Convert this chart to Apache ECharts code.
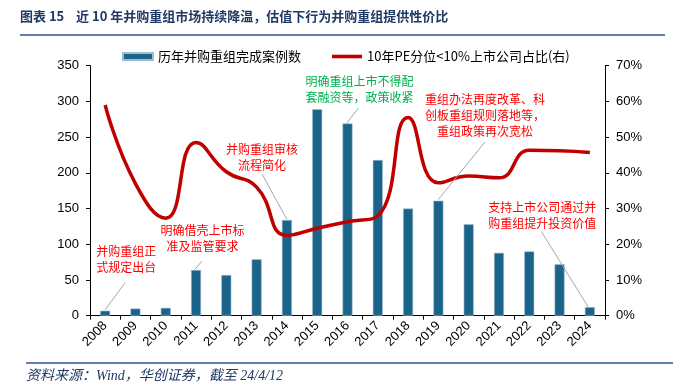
<!DOCTYPE html>
<html>
<head>
<meta charset="utf-8">
<script src="https://cdn.jsdelivr.net/npm/echarts@6/dist/echarts.min.js"></script>
<style>
html,body{margin:0;padding:0;background:#fff;}
#c{width:685px;height:386px;}
</style>
</head>
<body>
<div id="c"></div>
<script>
const years = ['2008','2009','2010','2011','2012','2013','2014','2015','2016','2017','2018','2019','2020','2021','2022','2023','2024'];
const dealCounts = [7,10,11,64,57,79,134,289,269,218,150,161,128,88,90,72,12];
const pePct = [59,37,27.3,48.5,40.3,36,22.5,24.5,26.3,28,55.5,37.2,39.1,38.6,46.3,46.2,45.7];
const leftTicks = {min:0,max:350,interval:50};
const rightTicks = {min:0,max:70,interval:10};
const seriesNames = ['历年并购重组完成案例数','10年PE分位<10%上市公司占比(右)'];
const titleText = '图表 15    近 10 年并购重组市场持续降温，估值下行为并购重组提供性价比';
const sourceText = '资料来源：Wind，华创证券，截至 24/4/12';
const notes = [
  {i:0, lines:['并购重组正','式规定出台'], color:'#ff0000'},
  {i:3, lines:['明确借壳上市标','准及监管要求'], color:'#ff0000'},
  {i:6, lines:['并购重组审核','流程简化'], color:'#ff0000'},
  {i:8, lines:['明确重组上市不得配','套融资等，政策收紧'], color:'#00b050'},
  {i:11, lines:['重组办法再度改革、科','创板重组规则落地等，','重组政策再次宽松'], color:'#ff0000'},
  {i:16, lines:['支持上市公司通过并','购重组提升投资价值'], color:'#ff0000'}
];
// layout offsets (text center, leader start, leader end) relative to bar top
const noteLayout = [
  {t:[21,-51], s:[20,-28], e:[0,-1]},
  {t:[6.5,-31.5], s:[5.7,-8.7], e:[-1,-0.7]},
  {t:[-25,-62.5], s:[-24.7,-45.7], e:[0,-0.5]},
  {t:[12,-33.7], s:[10.8,-15.4], e:[-0.8,-0.4]},
  {t:[46.5,-85], s:[46.5,-58.6], e:[-0.2,-1]},
  {t:[-47.5,-91.7], s:[-48.3,-75.3], e:[-1.7,-0.3]}
];

const cjk = '"Noto Sans CJK SC", sans-serif';
const chart = echarts.init(document.getElementById('c'), null, {renderer:'canvas'});
const option = {
  animation:false,
  backgroundColor:'#fff',
  grid:{left:90,right:80,top:65.7,bottom:70.3,containLabel:false},
  legend:{
    left:122, top:50, padding:0, itemWidth:30, itemHeight:7, itemGap:31,
    textStyle:{fontFamily:cjk,fontSize:13,color:'#000'},
    data:[{name:seriesNames[0],icon:'rect'},
          {name:seriesNames[1],icon:'path://M0,0H30V3.6H0Z'}]
  },
  xAxis:{
    type:'category', data:years,
    axisLine:{lineStyle:{color:'#000',width:1}},
    axisTick:{show:true,alignWithLabel:false,length:4,lineStyle:{color:'#000'}},
    axisLabel:{rotate:45,fontFamily:'Arial, "Liberation Sans"',fontSize:13,color:'#000',margin:8,interval:0}
  },
  yAxis:[
    {type:'value',min:leftTicks.min,max:leftTicks.max,interval:leftTicks.interval,
     splitLine:{show:false},
     axisLine:{show:true,lineStyle:{color:'#000'}},
     axisTick:{show:true,length:4,lineStyle:{color:'#000'}},
     axisLabel:{fontFamily:'Arial, "Liberation Sans"',fontSize:13,color:'#000',margin:11}},
    {type:'value',min:rightTicks.min,max:rightTicks.max,interval:rightTicks.interval,
     splitLine:{show:false},
     axisLine:{show:true,lineStyle:{color:'#000'}},
     axisTick:{show:true,length:4,lineStyle:{color:'#000'}},
     axisLabel:{fontFamily:'Arial, "Liberation Sans"',fontSize:13,color:'#000',margin:11,formatter:'{value}%'}}
  ],
  series:[
    {name:seriesNames[0],type:'bar',data:dealCounts,barWidth:10,yAxisIndex:0,
     itemStyle:{color:'#1b6489',borderColor:'#9fbbd0',borderWidth:0.6},z:2},
    {name:seriesNames[1],type:'line',data:pePct,yAxisIndex:1,smooth:0.5,symbol:'none',
     lineStyle:{color:'#c00000',width:3.5},itemStyle:{color:'#c00000'},z:5}
  ]
};
chart.setOption(option);

const g = [];
g.push({type:'text',left:20,top:10,style:{text:titleText,font:'bold 13px '+cjk,fill:'#1f3864'}});
g.push({type:'line',shape:{x1:20,y1:35,x2:665,y2:35},style:{stroke:'#2f5597',lineWidth:1.5}});
g.push({type:'line',shape:{x1:26,y1:363,x2:673,y2:363},style:{stroke:'#2f5597',lineWidth:1.5}});
g.push({type:'text',left:26,top:369,style:{text:sourceText,font:'italic 14px "Liberation Serif", '+cjk,fill:'#1f3864'}});
notes.forEach((n,k)=>{
  const p = chart.convertToPixel({seriesIndex:0},[n.i,dealCounts[n.i]]);
  const L = noteLayout[k];
  g.push({type:'line',z:10,shape:{x1:p[0]+L.s[0],y1:p[1]+L.s[1],x2:p[0]+L.e[0],y2:p[1]+L.e[1]},
          style:{stroke:'#a6a6a6',lineWidth:1}});
  g.push({type:'text',z:10,x:p[0]+L.t[0],y:p[1]+L.t[1],
          style:{text:n.lines.join('\n'),font:'12px '+cjk,fill:n.color,align:'center',verticalAlign:'middle',lineHeight:16}});
});
chart.setOption({graphic:g});
</script>
</body>
</html>
